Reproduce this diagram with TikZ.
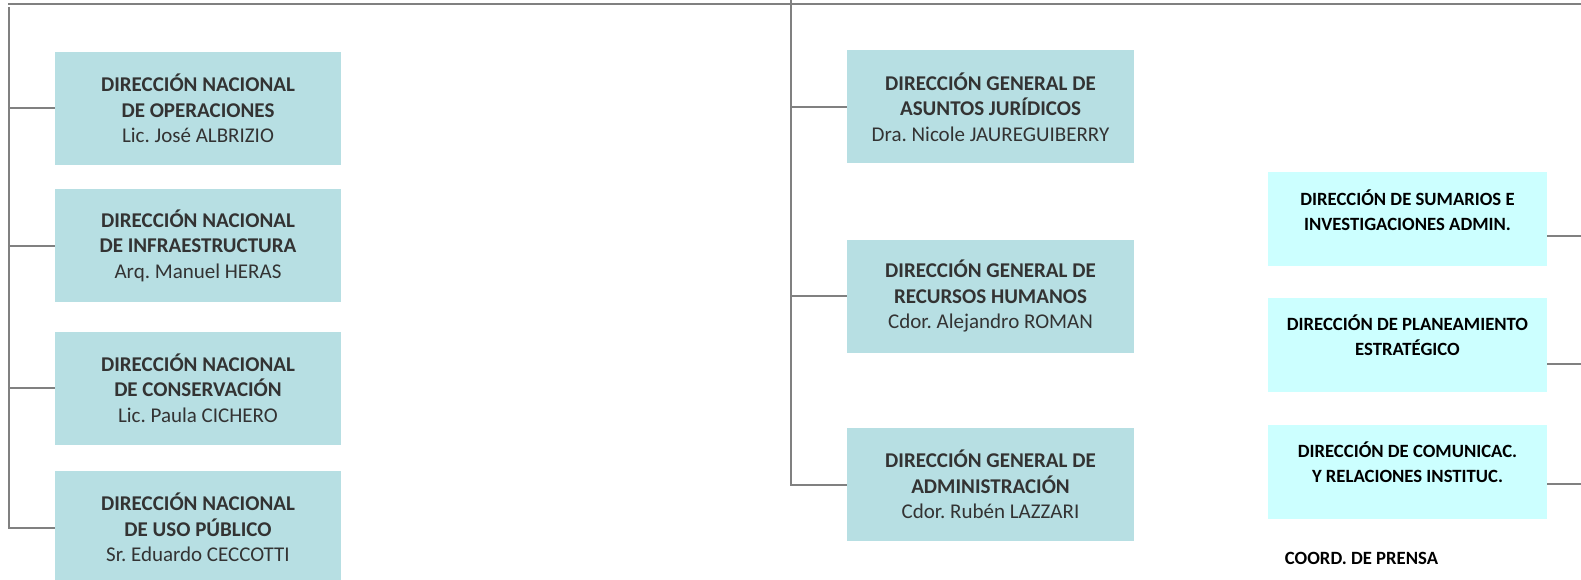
\documentclass[tikz,border=0pt]{standalone}
\usepackage{fontspec}
\setmainfont{Carlito}
\usepackage{tikz}
\usetikzlibrary{positioning}
\definecolor{boxteal}{HTML}{B7DFE3}
\definecolor{boxcyan}{HTML}{CCFFFF}
\definecolor{inkgray}{HTML}{333333}
\definecolor{linegray}{HTML}{808080}
\frenchspacing

\begin{document}
\begin{tikzpicture}
  [x=1pt,y=-1pt,every node/.style={inner sep=0pt},
   dirbox/.style={fill=boxteal,minimum height=113pt,align=center,text=inkgray,
                  font=\fontsize{21}{25.5}\selectfont},
   subbox/.style={fill=boxcyan,minimum width=279pt,minimum height=94pt},
   sublabel/.style={align=center,font=\fontsize{18.7}{25}\selectfont\bfseries},
   link/.style={draw=linegray,line width=2pt}]

  \useasboundingbox (0,0) rectangle (1581,580);

  % trunks
  \coordinate (tl) at (8,4);
  \coordinate (tr) at (1581,4);
  \coordinate (lt) at (9,7);
  \coordinate (mt) at (791,0);

  % direcciones nacionales
  \node[dirbox,minimum width=286pt] (d1) at (198,108.5)
    {\textbf{DIRECCIÓN NACIONAL}\\\textbf{DE OPERACIONES}\\Lic. José ALBRIZIO};
  \node[dirbox,minimum width=286pt] (d2) at (198,245.5)
    {\textbf{DIRECCIÓN NACIONAL}\\\textbf{DE INFRAESTRUCTURA}\\Arq. Manuel HERAS};
  \node[dirbox,minimum width=286pt] (d3) at (198,388)
    {\textbf{DIRECCIÓN NACIONAL}\\\textbf{DE CONSERVACIÓN}\\Lic. Paula CICHERO};
  \node[dirbox,minimum width=286pt] (d4) at (198,527.5)
    {\textbf{DIRECCIÓN NACIONAL}\\\textbf{DE USO PÚBLICO}\\Sr. Eduardo CECCOTTI};

  % direcciones generales
  \node[dirbox,minimum width=287pt] (g1) at (990.5,107)
    {\textbf{DIRECCIÓN GENERAL DE}\\\textbf{ASUNTOS JURÍDICOS}\\Dra. Nicole JAUREGUIBERRY};
  \node[dirbox,minimum width=287pt] (g2) at (990.5,296)
    {\textbf{DIRECCIÓN GENERAL DE}\\\textbf{RECURSOS HUMANOS}\\Cdor. Alejandro ROMAN};
  \node[dirbox,minimum width=287pt] (g3) at (990.5,484.5)
    {\textbf{DIRECCIÓN GENERAL DE}\\\textbf{ADMINISTRACIÓN}\\Cdor. Rubén LAZZARI};

  % direcciones de apoyo
  \node[subbox] (s1) at (1407.5,219) {};
  \node[subbox] (s2) at (1407.5,344.5) {};
  \node[subbox] (s3) at (1407.5,471.5) {};
  \node[sublabel] (s1t) at (1407.5,210) {DIRECCIÓN DE SUMARIOS E\\INVESTIGACIONES ADMIN.};
  \node[sublabel] (s2t) at (1407.5,335) {DIRECCIÓN DE PLANEAMIENTO\\ESTRATÉGICO};
  \node[sublabel] (s3t) at (1407.5,462) {DIRECCIÓN DE COMUNICAC.\\Y RELACIONES INSTITUC.};
  \node[sublabel] (prensa) at (1361.5,558) {COORD. DE PRENSA};

  \coordinate (e1) at (1581,236);
  \coordinate (e2) at (1581,364);
  \coordinate (e3) at (1581,484);

  % lines
  \draw[link] (tl) -- (tr);
  \draw[link] (lt) |- (d4.west);
  \draw[link] (lt |- d1.west) -- (d1.west);
  \draw[link] (lt |- d2.west) -- (d2.west);
  \draw[link] (lt |- d3.west) -- (d3.west);
  \draw[link] (mt) |- (g3.west);
  \draw[link] (mt |- g1.west) -- (g1.west);
  \draw[link] (mt |- g2.west) -- (g2.west);
  \draw[link] (s1.east |- e1) -- (e1);
  \draw[link] (s2.east |- e2) -- (e2);
  \draw[link] (s3.east |- e3) -- (e3);
\end{tikzpicture}
\end{document}
